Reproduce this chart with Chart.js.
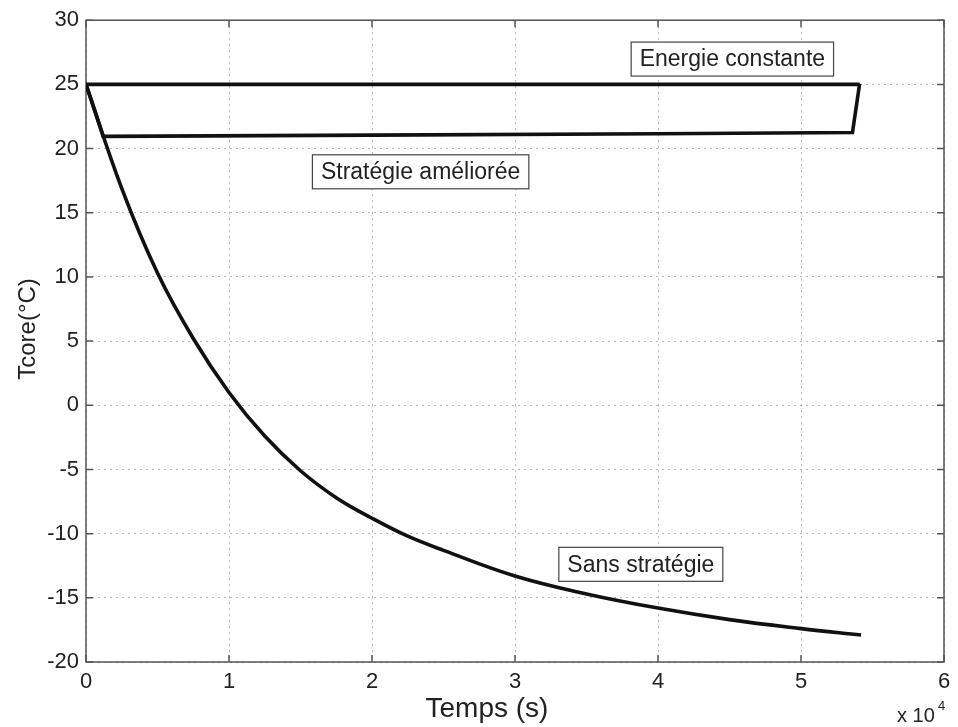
<!DOCTYPE html>
<html>
<head>
<meta charset="utf-8">
<script src="https://cdn.jsdelivr.net/npm/chart.js@4.4.1/dist/chart.umd.min.js"></script>
<style>
  html, body { margin: 0; padding: 0; background: #fff; }
  #wrap { width: 958px; height: 727px; }
</style>
</head>
<body>
<div id="wrap"><canvas id="chart"></canvas></div>
<script>
// ticks (x in seconds, labelled in units of 1e4)
const xTicks = [0, 10000, 20000, 30000, 40000, 50000, 60000];
const xTickLabels = ["0", "1", "2", "3", "4", "5", "6"];
const yTicks = [-20, -15, -10, -5, 0, 5, 10, 15, 20, 25, 30];

// "Sans stratégie"
const sansTime = [0, 2500, 5000, 7500, 10000, 12500, 15000, 17500, 20000, 22500, 25000, 30000, 35000, 40000, 45000, 50000, 54200];
const sansTemp = [25, 16.9, 10.3, 5.2, 1.0, -2.4, -5.1, -7.2, -8.8, -10.2, -11.3, -13.3, -14.7, -15.8, -16.7, -17.4, -17.9];

// "Stratégie améliorée"
const amelTime = [0, 1200, 20000, 40000, 53600, 54100];
const amelTemp = [25, 20.95, 21.05, 21.15, 21.25, 25.05];

// "Energie constante"
const constTime = [0, 54100];
const constTemp = [25, 25];

// boxed labels
const labelTexts = ["Energie constante", "Stratégie améliorée", "Sans stratégie"];
const labelAnchors = [[45200, 26.97], [23400, 18.19], [38800, -12.39]];

const xTitle = "Temps (s)";
const yTitle = "Tcore(°C)";

const FONT = '"Liberation Sans", Arial, sans-serif';

function toPoints(xs, ys) {
  return xs.map((x, i) => ({ x: x, y: ys[i] }));
}

const matlabFrame = {
  id: "matlabFrame",
  beforeDatasetsDraw(chart) {
    const { ctx, chartArea: a, scales } = chart;
    ctx.save();
    ctx.strokeStyle = "#555";
    ctx.lineWidth = 1.5;
    // inward tick marks on all four sides
    ctx.beginPath();
    for (const v of xTicks) {
      const px = scales.x.getPixelForValue(v);
      ctx.moveTo(px, a.bottom); ctx.lineTo(px, a.bottom - 7);
      ctx.moveTo(px, a.top); ctx.lineTo(px, a.top + 7);
    }
    for (const v of yTicks) {
      const py = scales.y.getPixelForValue(v);
      ctx.moveTo(a.left, py); ctx.lineTo(a.left + 7, py);
      ctx.moveTo(a.right, py); ctx.lineTo(a.right - 7, py);
    }
    ctx.stroke();
    ctx.strokeRect(a.left, a.top, a.right - a.left, a.bottom - a.top);
    ctx.restore();
  },
  afterDraw(chart) {
    const { ctx, chartArea: a, scales } = chart;
    ctx.save();
    ctx.font = "23px " + FONT;
    ctx.textAlign = "center";
    ctx.textBaseline = "middle";
    labelTexts.forEach((t, i) => {
      const cx = scales.x.getPixelForValue(labelAnchors[i][0]);
      const cy = scales.y.getPixelForValue(labelAnchors[i][1]);
      const w = ctx.measureText(t).width + 17;
      const h = 34;
      ctx.fillStyle = "#fff";
      ctx.fillRect(cx - w / 2, cy - h / 2, w, h);
      ctx.strokeStyle = "#444";
      ctx.lineWidth = 1.2;
      ctx.strokeRect(cx - w / 2, cy - h / 2, w, h);
      ctx.fillStyle = "#222";
      ctx.fillText(t, cx, cy + 1);
    });

    // axis titles
    ctx.fillStyle = "#222";
    ctx.textAlign = "center";
    ctx.textBaseline = "alphabetic";
    ctx.font = "28px " + FONT;
    ctx.fillText(xTitle, 487, 717);
    ctx.save();
    ctx.translate(35, 329);
    ctx.rotate(-Math.PI / 2);
    ctx.font = "24px " + FONT;
    ctx.fillText(yTitle, 0, 0);
    ctx.restore();

    // exponent note under the x axis
    ctx.textAlign = "left";
    ctx.font = "20px " + FONT;
    ctx.fillText("x 10", a.right - 47, 722);
    ctx.font = "13px " + FONT;
    ctx.fillText("4", a.right - 6, 710);
    ctx.restore();
  }
};

const lineStyle = {
  borderColor: "#111",
  borderWidth: 3.6,
  pointRadius: 0,
  fill: false
};

new Chart(document.getElementById("chart"), {
  type: "line",
  data: {
    datasets: [
      { label: "Energie constante", data: toPoints(constTime, constTemp), tension: 0, ...lineStyle },
      { label: "Stratégie améliorée", data: toPoints(amelTime, amelTemp), tension: 0, ...lineStyle },
      { label: "Sans stratégie", data: toPoints(sansTime, sansTemp), tension: 0.4, ...lineStyle }
    ]
  },
  options: {
    responsive: true,
    maintainAspectRatio: false,
    animation: false,
    layout: { padding: { top: 19, right: 14, left: 0, bottom: 0 } },
    plugins: {
      legend: { display: false },
      tooltip: { enabled: false }
    },
    scales: {
      x: {
        type: "linear",
        min: 0,
        max: 60000,
        afterBuildTicks: (scale) => { scale.ticks = xTicks.map((v) => ({ value: v })); },
        afterFit: (scale) => { scale.height = 65; },
        ticks: {
          color: "#222",
          padding: 7,
          maxRotation: 0,
          font: { family: FONT, size: 22 },
          callback: (v) => xTickLabels[xTicks.indexOf(v)]
        },
        grid: { color: "rgba(110,110,110,0.5)", drawTicks: false },
        border: { display: false, dash: [2, 4] }
      },
      y: {
        type: "linear",
        min: -20,
        max: 30,
        afterBuildTicks: (scale) => { scale.ticks = yTicks.map((v) => ({ value: v })); },
        afterFit: (scale) => { scale.width = 86; },
        ticks: {
          color: "#222",
          padding: 7,
          font: { family: FONT, size: 22 }
        },
        grid: { color: "rgba(110,110,110,0.5)", drawTicks: false },
        border: { display: false, dash: [2, 4] }
      }
    }
  },
  plugins: [matlabFrame]
});
</script>
</body>
</html>
